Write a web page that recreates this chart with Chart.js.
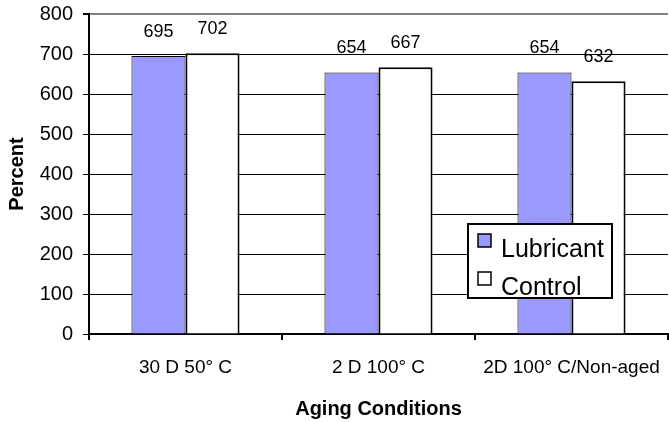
<!DOCTYPE html>
<html>
<head>
<meta charset="utf-8">
<script src="https://cdn.jsdelivr.net/npm/chart.js@4"></script>
<style>
	html, body { margin: 0; padding: 0; background: #fff; }
	#wrap { width: 669px; height: 422px; }
</style>
</head>
<body>
<div id="wrap"><canvas id="cntx_aging"></canvas></div>
<script>
const aging_labels = ["30 D 50° C", "2 D 100° C", "2D 100° C/Non-aged"];
const lubricant_values = [695, 654, 654];
const control_values = [702, 667, 632];
const series_names = ["Lubricant", "Control"];
const y_ticks = [0, 100, 200, 300, 400, 500, 600, 700, 800];

const FONT = "'Liberation Sans', Arial, sans-serif";

// value labels above every bar
const valueLabels = {
	id: "valueLabels",
	afterDatasetsDraw: (chart) => {
		const ctx = chart.ctx;
		ctx.save();
		ctx.font = "18px " + FONT;
		ctx.fillStyle = "#000";
		ctx.textAlign = "center";
		ctx.textBaseline = "middle";
		chart.data.datasets.forEach((ds, i) => {
			chart.getDatasetMeta(i).data.forEach((bar, j) => {
				ctx.fillText(ds.data[j], bar.x, bar.y - 24);
			});
		});
		ctx.restore();
	},
};

// boxed legend sitting inside the plot, like the original
const boxLegend = {
	id: "boxLegend",
	afterDraw: (chart) => {
		const ctx = chart.ctx;
		const x = 468, y = 224, w = 144, h = 74;
		ctx.save();
		ctx.fillStyle = "#fff";
		ctx.fillRect(x, y, w, h);
		ctx.lineWidth = 2;
		ctx.strokeStyle = "#000";
		ctx.strokeRect(x, y, w, h);
		ctx.font = "25px " + FONT;
		ctx.textAlign = "left";
		ctx.textBaseline = "alphabetic";
		chart.data.datasets.forEach((ds, i) => {
			const sy = y + 10 + i * 38;
			ctx.fillStyle = ds.backgroundColor;
			ctx.fillRect(x + 10, sy, 13, 13);
			ctx.lineWidth = 1.5;
			ctx.strokeRect(x + 10, sy, 13, 13);
			ctx.fillStyle = "#000";
			ctx.fillText(ds.label, x + 33, y + 33 + i * 38);
		});
		ctx.restore();
	},
};

drawChart = (canvas) => {
	const myChart = new Chart(canvas, {
		type: "bar",
		data: {
			labels: aging_labels,
			datasets: [
				{
					label: series_names[0],
					data: lubricant_values,
					backgroundColor: "#9999ff",
					borderColor: "#000",
					borderWidth: 1,
				},
				{
					label: series_names[1],
					data: control_values,
					backgroundColor: "#ffffff",
					borderColor: "#000",
					borderWidth: 2,
				},
			],
		},
		options: {
			responsive: true,
			maintainAspectRatio: false,
			animation: false,
			categoryPercentage: 0.56,
			barPercentage: 1,
			layout: { padding: { top: 14, right: 1, left: 0, bottom: 0 } },
			plugins: {
				legend: { display: false },
				tooltip: { enabled: false },
			},
			scales: {
				x: {
					afterFit: (scale) => {
						scale.height = 88;
						scale.paddingLeft = 0;
						scale.paddingRight = 0;
					},
					grid: {
						offset: true,
						drawOnChartArea: false,
						drawTicks: true,
						tickLength: 6,
						color: "#000",
						lineWidth: 2,
					},
					border: { color: "#000", width: 2 },
					ticks: {
						color: "#000",
						font: { family: FONT, size: 19 },
						padding: 16,
						maxRotation: 0,
					},
					title: {
						display: true,
						text: "Aging Conditions",
						color: "#000",
						font: { family: FONT, size: 20, weight: "bold" },
						padding: { top: 0, bottom: 1 },
					},
				},
				y: {
					min: y_ticks[0],
					max: y_ticks[y_ticks.length - 1],
					afterFit: (scale) => {
						scale.width = 89;
						scale.paddingTop = 0;
						scale.paddingBottom = 0;
					},
					afterBuildTicks: (scale) => {
						scale.ticks = y_ticks.map((v) => ({ value: v }));
					},
					grid: {
						color: (c) => (c.tick && c.tick.value === 800 ? "#808080" : "#000"),
						lineWidth: (c) => (c.tick && c.tick.value === 800 ? 2 : 1),
						tickLength: 6,
						tickColor: "#000",
					},
					border: { color: "#000", width: 2 },
					ticks: {
						color: "#000",
						font: { family: FONT, size: 20 },
						padding: 10,
					},
					title: {
						display: true,
						text: "Percent",
						color: "#000",
						font: { family: FONT, size: 20, weight: "bold" },
						padding: { top: 5, bottom: 0 },
					},
				},
			},
		},
		plugins: [valueLabels, boxLegend],
	});
};
drawChart(document.querySelector("#cntx_aging"));
</script>
</body>
</html>
